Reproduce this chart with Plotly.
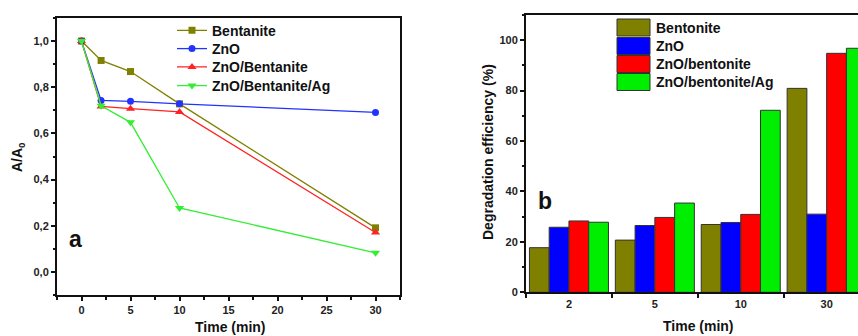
import plotly.graph_objects as go

W, H = 858, 336

# ---- data: panel a ----
time_a = [0, 2, 5, 10, 30]
names_a = ["Bentanite", "ZnO", "ZnO/Bentanite", "ZnO/Bentanite/Ag"]
bentanite = [1.0, 0.916, 0.868, 0.728, 0.191]
zno = [1.0, 0.743, 0.739, 0.728, 0.691]
zno_bent = [1.0, 0.717, 0.707, 0.693, 0.171]
zno_bent_ag = [1.0, 0.72, 0.648, 0.277, 0.083]

# ---- data: panel b ----
time_b = ["2", "5", "10", "30"]
names_b = ["Bentonite", "ZnO", "ZnO/bentonite", "ZnO/bentonite/Ag"]
deg_bentonite = [17.7, 20.7, 26.9, 80.9]
deg_zno = [25.8, 26.5, 27.7, 31.0]
deg_zno_bent = [28.3, 29.7, 30.9, 94.8]
deg_zno_bent_ag = [27.8, 35.4, 72.2, 96.8]

colors = ["#808000", "#0000ff", "#ff0000", "#00ee00"]
line_colors = ["#808000", "#2233ff", "#ff2222", "#33ee33"]
symbols = ["square", "circle", "triangle-up", "triangle-down"]

FONT = "Liberation Sans, Arial, sans-serif"

def px_x(p):
    return p / W

def px_y(p):
    return 1 - p / H

fig = go.Figure()

legend_ids = ["legend", "legend2", "legend3", "legend4"]
for name, vals, c, s, lg in zip(names_a, [bentanite, zno, zno_bent, zno_bent_ag], line_colors, symbols, legend_ids):
    fig.add_trace(go.Scatter(
        x=time_a, y=vals, name=name, mode="lines+markers",
        line=dict(color=c, width=1.3),
        marker=dict(symbol=s, size=7 if s in ("square", "circle") else 8, color=c),
        xaxis="x", yaxis="y", legend=lg,
    ))

for name, vals, c in zip(names_b, [deg_bentonite, deg_zno, deg_zno_bent, deg_zno_bent_ag], colors):
    fig.add_trace(go.Bar(
        x=time_b, y=vals, name=name,
        marker=dict(color=c, line=dict(color="#333333", width=1)),
        xaxis="x2", yaxis="y2", showlegend=False,
    ))

tickfont = dict(family=FONT, size=11, color="#222222", weight="bold")

axis_common = dict(
    showgrid=False, zeroline=False, showline=True, linecolor="#111111", linewidth=2,
    ticks="outside", ticklen=4, tickwidth=1.5, tickcolor="#111111", tickfont=tickfont,
    automargin=False,
)

legend_rows = [30.7, 49, 67.3, 86]
legend_layout = {}
for lg, yc in zip(legend_ids, legend_rows):
    legend_layout[lg] = dict(
        x=px_x(172), y=px_y(yc), xanchor="left", yanchor="middle",
        bgcolor="rgba(0,0,0,0)", borderwidth=0, tracegroupgap=0,
        font=dict(family=FONT, size=14, color="#111111", weight="bold"),
        itemwidth=30,
    )

fig.update_layout(
    width=W, height=H,
    margin=dict(l=0, r=0, t=0, b=0, autoexpand=False),
    paper_bgcolor="white", plot_bgcolor="white",
    separators=",.",
    barmode="group", bargap=0.08, bargroupgap=0,
    xaxis=dict(domain=[px_x(57), px_x(400)], range=[-2.5, 32.5], anchor="y",
               tickvals=[0, 5, 10, 15, 20, 25, 30], mirror=True,
               minor=dict(dtick=2.5, tick0=0, ticks="outside", ticklen=2.5, tickcolor="#111111"),
               **axis_common),
    yaxis=dict(domain=[px_y(295), px_y(18)], range=[-0.1, 1.1], anchor="x",
               tickvals=[0, 0.2, 0.4, 0.6, 0.8, 1.0], tickformat=".1f", mirror=True,
               minor=dict(dtick=0.1, tick0=0, ticks="outside", ticklen=2.5, tickcolor="#111111"),
               **axis_common),
    xaxis2=dict(domain=[px_x(526), 1.0], range=[-0.5, 3.365], anchor="y2",
                type="category", tickson="boundaries", mirror=True,
                **axis_common),
    yaxis2=dict(domain=[px_y(292.3), px_y(15)], range=[0, 110], anchor="x2",
                tickvals=[0, 20, 40, 60, 80, 100], mirror=False,
                minor=dict(dtick=10, tick0=0, ticks="outside", ticklen=2.5, tickcolor="#111111"),
                **axis_common),
    showlegend=True,
    **legend_layout,
)

# manual legend for bar panel
box_centers = [27.5, 46, 64, 82]
annotations = []
shapes = []
for name, c, yc in zip(names_b, colors, box_centers):
    shapes.append(dict(type="rect", xref="paper", yref="paper",
                       x0=px_x(617), x1=px_x(650), y0=px_y(yc + 8.5), y1=px_y(yc - 8.5),
                       fillcolor=c, line=dict(color="#333333", width=1)))
    annotations.append(dict(text=name, xref="paper", yref="paper", x=px_x(654), y=px_y(yc),
                            xanchor="left", yanchor="middle", showarrow=False,
                            font=dict(family=FONT, size=14, color="#111111", weight="bold")))

title_font = dict(family=FONT, size=14, color="#111111", weight="bold")
annotations += [
    dict(text="A/A<sub>0</sub>", xref="paper", yref="paper", x=px_x(18), y=px_y(157),
         xanchor="center", yanchor="middle", textangle=-90, showarrow=False, font=title_font),
    dict(text="Time (min)", xref="paper", yref="paper", x=px_x(230), y=px_y(327),
         xanchor="center", yanchor="middle", showarrow=False, font=title_font),
    dict(text="Degradation efficiency (%)", xref="paper", yref="paper", x=px_x(488), y=px_y(152),
         xanchor="center", yanchor="middle", textangle=-90, showarrow=False, font=title_font),
    dict(text="Time (min)", xref="paper", yref="paper", x=px_x(698), y=px_y(326),
         xanchor="center", yanchor="middle", showarrow=False, font=title_font),
    dict(text="a", xref="paper", yref="paper", x=px_x(75), y=px_y(239),
         xanchor="center", yanchor="middle", showarrow=False,
         font=dict(family=FONT, size=23, color="#111111", weight="bold")),
    dict(text="b", xref="paper", yref="paper", x=px_x(545), y=px_y(201),
         xanchor="center", yanchor="middle", showarrow=False,
         font=dict(family=FONT, size=23, color="#111111", weight="bold")),
]
fig.update_layout(annotations=annotations, shapes=shapes)

fig.write_html(
    "out.html",
    config={"displayModeBar": False},
    post_script="document.body.style.margin='0';document.body.style.overflow='hidden';",
)
